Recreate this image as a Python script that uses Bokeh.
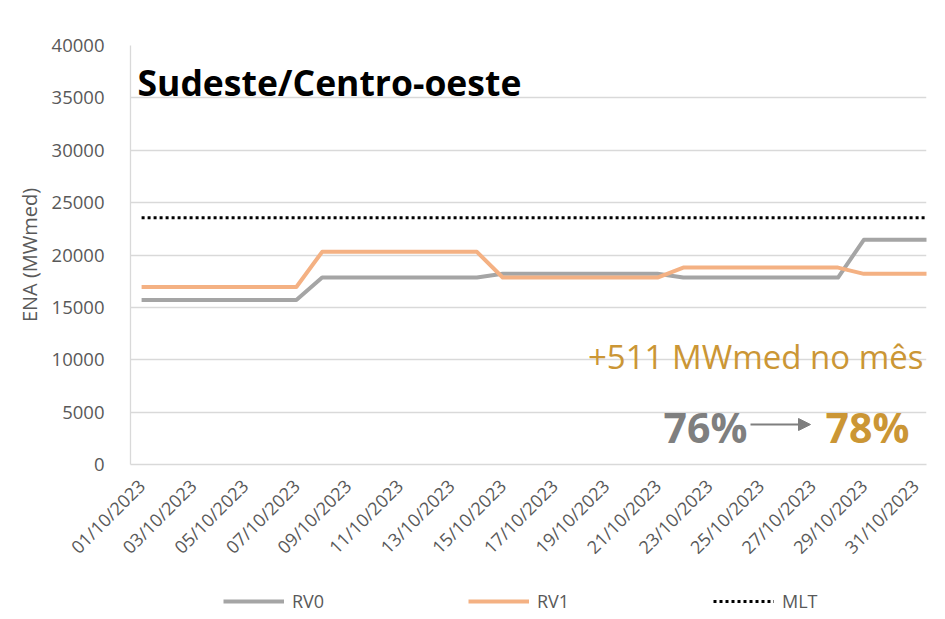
from bokeh.plotting import figure
from bokeh.layouts import column
from bokeh.models import (Range1d, FixedTicker, Legend, LegendItem, Label,
                          Arrow, NormalHead)
from bokeh.embed import file_html
from bokeh.resources import INLINE

# ---- data ----
dates = ["01/10/2023", "02/10/2023", "03/10/2023", "04/10/2023", "05/10/2023",
         "06/10/2023", "07/10/2023", "08/10/2023", "09/10/2023", "10/10/2023",
         "11/10/2023", "12/10/2023", "13/10/2023", "14/10/2023", "15/10/2023",
         "16/10/2023", "17/10/2023", "18/10/2023", "19/10/2023", "20/10/2023",
         "21/10/2023", "22/10/2023", "23/10/2023", "24/10/2023", "25/10/2023",
         "26/10/2023", "27/10/2023", "28/10/2023", "29/10/2023", "30/10/2023",
         "31/10/2023", "01/11/2023"]
rv0 = [15700, 15700, 15700, 15700, 15700, 15700, 15700,
       17850, 17850, 17850, 17850, 17850, 17850, 17850,
       18200, 18200, 18200, 18200, 18200, 18200, 18200,
       17850, 17850, 17850, 17850, 17850, 17850, 17850,
       21450, 21450, 21450, 21450]
rv1 = [16950, 16950, 16950, 16950, 16950, 16950, 16950,
       20300, 20300, 20300, 20300, 20300, 20300, 20300,
       17850, 17850, 17850, 17850, 17850, 17850, 17850,
       18800, 18800, 18800, 18800, 18800, 18800, 18800,
       18200, 18200, 18200, 18200]
mlt = [23550, 23550, 23550, 23550, 23550, 23550, 23550, 23550,
       23550, 23550, 23550, 23550, 23550, 23550, 23550, 23550,
       23550, 23550, 23550, 23550, 23550, 23550, 23550, 23550,
       23550, 23550, 23550, 23550, 23550, 23550, 23550, 23550]
y_ticks = [0, 5000, 10000, 15000, 20000, 25000, 30000, 35000, 40000]
y_tick_labels = ["0", "5000", "10000", "15000", "20000", "25000", "30000", "35000", "40000"]
x_tick_idx = [0, 2, 4, 6, 8, 10, 12, 14, 16, 18, 20, 22, 24, 26, 28, 30]
series_names = ["RV0", "RV1", "MLT"]
series_colors = ["#A5A5A5", "#F4B183", "black"]
series_widths = [4, 4, 3]
series_dashes = ["solid", "solid", "3 3"]
series_values = [rv0, rv1, mlt]

title_text = "Sudeste/Centro-oeste"
delta_text = "+511 MWmed no mês"
pct_before = "76%"
pct_after = "78%"

FONT = "Open Sans"
GRAY_TXT = "#595959"
GOLD = "#CB9635"

x = list(range(len(dates)))

p = figure(width=937, height=578, output_backend="svg", toolbar_location=None,
           x_range=Range1d(-0.43, 30.43), y_range=Range1d(0, 40000),
           min_border_left=130, min_border_right=11, min_border_top=45,
           min_border_bottom=114)
p.outline_line_color = None
p.background_fill_color = "white"
p.border_fill_color = "white"

p.xgrid.visible = False
p.ygrid.grid_line_color = "#D9D9D9"
p.ygrid.grid_line_width = 1.3

# y axis
p.yaxis.ticker = FixedTicker(ticks=y_ticks)
p.yaxis.major_label_overrides = {t: l for t, l in zip(y_ticks, y_tick_labels)}
p.yaxis.axis_line_color = "#D9D9D9"
p.yaxis.axis_line_width = 1.3
p.yaxis.major_tick_line_color = None
p.yaxis.minor_tick_line_color = None
p.yaxis.major_label_standoff = 20
p.yaxis.major_label_text_font = FONT
p.yaxis.major_label_text_font_size = "18.5px"
p.yaxis.major_label_text_color = GRAY_TXT
p.yaxis.axis_label = "ENA (MWmed)"
p.yaxis.axis_label_text_font = FONT
p.yaxis.axis_label_text_font_size = "20px"
p.yaxis.axis_label_text_font_style = "normal"
p.yaxis.axis_label_text_color = GRAY_TXT
p.yaxis.axis_label_standoff = 6

# x axis
p.xaxis.ticker = FixedTicker(ticks=x_tick_idx)
p.xaxis.major_label_overrides = {i: dates[i] for i in x_tick_idx}
p.xaxis.major_label_orientation = 0.7854
p.xaxis.axis_line_color = "#D9D9D9"
p.xaxis.axis_line_width = 1.3
p.xaxis.major_tick_line_color = None
p.xaxis.minor_tick_line_color = None
p.xaxis.major_label_standoff = 12
p.xaxis.major_label_text_font = FONT
p.xaxis.major_label_text_font_size = "18px"
p.xaxis.major_label_text_color = GRAY_TXT

# series
p.line(x, rv0, line_color=series_colors[0], line_width=series_widths[0], line_join="round")
p.line(x, rv1, line_color=series_colors[1], line_width=series_widths[1], line_join="round")
p.line(x, mlt, line_color=series_colors[2], line_width=series_widths[2], line_dash=series_dashes[2])

# annotations
p.add_layout(Label(x=7, y=383, x_units="screen", y_units="screen",
                   text=title_text, text_font=FONT, text_font_size="35.5px",
                   text_font_style="bold", text_color="black",
                   text_baseline="alphabetic", text_align="left"))
p.add_layout(Label(x=793, y=108, x_units="screen", y_units="screen",
                   text=delta_text, text_font=FONT, text_font_size="33px",
                   text_color=GOLD, text_baseline="alphabetic", text_align="right"))
p.add_layout(Label(x=533, y=38, x_units="screen", y_units="screen",
                   text=pct_before, text_font=FONT, text_font_size="41px",
                   text_font_style="bold", text_color="#7F7F7F",
                   text_baseline="alphabetic", text_align="left"))
p.add_layout(Label(x=695, y=38, x_units="screen", y_units="screen",
                   text=pct_after, text_font=FONT, text_font_size="41px",
                   text_font_style="bold", text_color=GOLD,
                   text_baseline="alphabetic", text_align="left"))
p.add_layout(Arrow(end=NormalHead(size=12, fill_color="#7F7F7F", line_color="#7F7F7F"),
                   x_start=620, y_start=40, x_end=680, y_end=40,
                   start_units="screen", end_units="screen",
                   line_color="#7F7F7F", line_width=2))

# legend strip below the chart (its frame is aligned with the chart's frame)
leg = figure(width=937, height=37, output_backend="svg", toolbar_location=None,
             x_range=Range1d(-100, -99), y_range=Range1d(-100, -99),
             x_axis_location=None, y_axis_location=None,
             min_border=0, min_border_left=0, min_border_right=0,
             min_border_top=0, min_border_bottom=0)
leg.outline_line_color = None
leg.xgrid.visible = False
leg.ygrid.visible = False
for name, vals, col, w, d, xo in zip(series_names, series_values, series_colors,
                                     series_widths, series_dashes, [93, 338, 583]):
    r = leg.line(x, vals, line_color=col, line_width=w, line_dash=d)
    lg = Legend(items=[LegendItem(label=name, renderers=[r])],
                location=(xo, 2), orientation="horizontal",
                background_fill_alpha=0, border_line_color=None,
                glyph_width=61, glyph_height=20, label_standoff=8,
                padding=0, margin=0, label_height=20,
                label_text_font=FONT, label_text_font_size="18px",
                label_text_color=GRAY_TXT)
    leg.add_layout(lg, "center")

layout = column(p, leg, spacing=0)
open("out.html", "w").write(file_html(layout, INLINE))
